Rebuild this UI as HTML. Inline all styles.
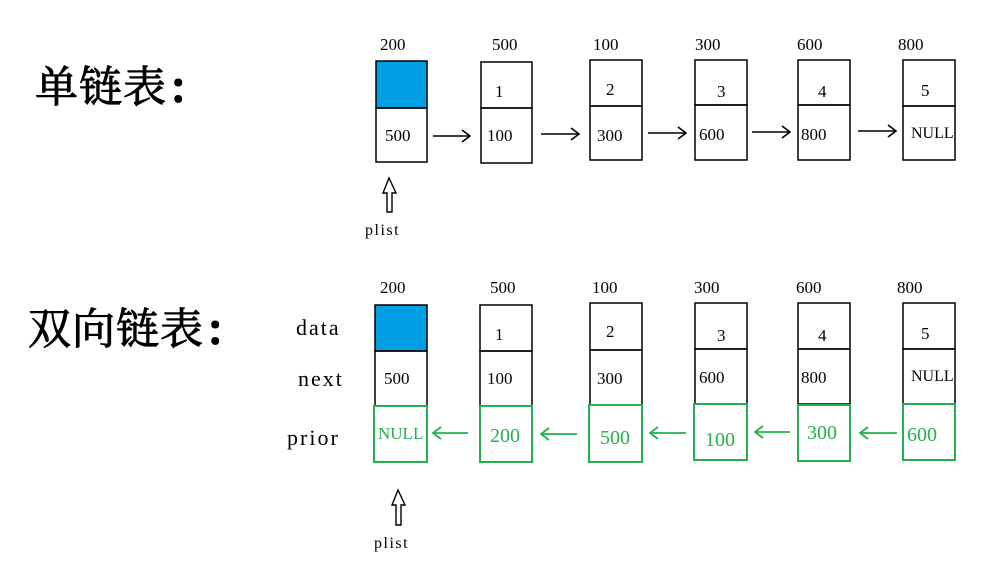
<!DOCTYPE html>
<html><head><meta charset="utf-8"><style>
html,body{margin:0;padding:0;background:#fff;width:996px;height:588px;overflow:hidden}
svg{display:block}
.t{font-family:"Noto Serif CJK SC","Liberation Serif",serif;font-size:43px;fill:#000;stroke:#000;stroke-width:0.9px;letter-spacing:1px}
.n{font-family:"Liberation Serif",serif;font-size:17px;fill:#000}
.g{font-family:"Liberation Serif",serif;font-size:20px;fill:#22b14c}
.m{font-family:"Liberation Serif",serif;font-size:22px;fill:#000;letter-spacing:2px}
.p{font-family:"Liberation Serif",serif;font-size:16px;fill:#000;letter-spacing:1.5px}
</style></head><body>
<svg width="996" height="588" viewBox="0 0 996 588" xmlns="http://www.w3.org/2000/svg">
<defs>
<marker id="ab" markerWidth="10" markerHeight="14" refX="9" refY="7" orient="auto" markerUnits="userSpaceOnUse"><path d="M1,1 L9,7 L1,13" fill="none" stroke="#000" stroke-width="1.6"/></marker>
<marker id="ag" markerWidth="10" markerHeight="14" refX="9" refY="7" orient="auto" markerUnits="userSpaceOnUse"><path d="M1,1 L9,7 L1,13" fill="none" stroke="#22b14c" stroke-width="1.8"/></marker>
</defs>
<text class="t" x="35" y="102">单链表<tspan dx="4" font-weight="bold">:</tspan></text>
<text class="t" x="28" y="344">双向链表<tspan dx="4" font-weight="bold">:</tspan></text>

<g class="n">
<text x="380" y="50">200</text><text x="492" y="50">500</text><text x="593" y="50">100</text>
<text x="695" y="50">300</text><text x="797" y="50">600</text><text x="898" y="50">800</text>
</g>
<g fill="none" stroke="#000" stroke-width="1.5">
<rect x="376" y="61" width="51" height="47" fill="#009fe3"/>
<rect x="376" y="108" width="51" height="54"/>
<rect x="481" y="62" width="51" height="46"/><rect x="481" y="108" width="51" height="55"/>
<rect x="590" y="60" width="52" height="46"/><rect x="590" y="106" width="52" height="54"/>
<rect x="695" y="60" width="52" height="45"/><rect x="695" y="105" width="52" height="55"/>
<rect x="798" y="60" width="52" height="45"/><rect x="798" y="105" width="52" height="55"/>
<rect x="903" y="60" width="52" height="46"/><rect x="903" y="106" width="52" height="54"/>
</g>
<g class="n">
<text x="495" y="97">1</text><text x="606" y="95">2</text><text x="717" y="97">3</text><text x="818" y="97">4</text><text x="921" y="96">5</text>
<text x="385" y="141">500</text><text x="487" y="141">100</text><text x="597" y="141">300</text>
<text x="699" y="140">600</text><text x="801" y="140">800</text><text x="911" y="138" style="font-size:16px">NULL</text>
</g>
<g stroke="#000" stroke-width="1.5" marker-end="url(#ab)">
<line x1="433" y1="136" x2="470" y2="136"/><line x1="541" y1="134" x2="579" y2="134"/>
<line x1="648" y1="133" x2="686" y2="133"/><line x1="752" y1="132" x2="790" y2="132"/>
<line x1="858" y1="131" x2="896" y2="131"/>
</g>
<path d="M389,178 L383,193 L387,193 L387,212 L392,212 L392,193 L396,193 Z" fill="#fff" stroke="#000" stroke-width="1.4"/>
<text class="p" x="365" y="235">plist</text>

<g class="n">
<text x="380" y="293">200</text><text x="490" y="293">500</text><text x="592" y="293">100</text>
<text x="694" y="293">300</text><text x="796" y="293">600</text><text x="897" y="293">800</text>
</g>
<text class="m" x="296" y="335">data</text>
<text class="m" x="298" y="386">next</text>
<text class="m" x="287" y="445">prior</text>
<g fill="none" stroke="#000" stroke-width="1.5">
<rect x="375" y="305" width="52" height="46" fill="#009fe3"/><rect x="375" y="351" width="52" height="55"/>
<rect x="480" y="305" width="52" height="46"/><rect x="480" y="351" width="52" height="55"/>
<rect x="590" y="303" width="52" height="47"/><rect x="590" y="350" width="52" height="55"/>
<rect x="695" y="303" width="52" height="46"/><rect x="695" y="349" width="52" height="55"/>
<rect x="798" y="303" width="52" height="46"/><rect x="798" y="349" width="52" height="55"/>
<rect x="903" y="303" width="52" height="46"/><rect x="903" y="349" width="52" height="55"/>
</g>
<g fill="none" stroke="#22b14c" stroke-width="2">
<rect x="374" y="406" width="53" height="56"/><rect x="480" y="406" width="52" height="56"/>
<rect x="589" y="405" width="53" height="57"/><rect x="694" y="404" width="53" height="56"/>
<rect x="798" y="405" width="52" height="56"/><rect x="903" y="404" width="52" height="56"/>
</g>
<g class="n">
<text x="495" y="340">1</text><text x="606" y="337">2</text><text x="717" y="341">3</text><text x="818" y="341">4</text><text x="921" y="339">5</text>
<text x="384" y="384">500</text><text x="487" y="384">100</text><text x="597" y="384">300</text>
<text x="699" y="383">600</text><text x="801" y="383">800</text><text x="911" y="381" style="font-size:16px">NULL</text>
</g>
<g class="g">
<text x="378" y="439" style="font-size:17px">NULL</text>
<text x="490" y="442">200</text><text x="600" y="444">500</text><text x="705" y="446">100</text>
<text x="807" y="439">300</text><text x="907" y="441">600</text>
</g>
<g stroke="#22b14c" stroke-width="1.8" marker-end="url(#ag)">
<line x1="468" y1="433" x2="433" y2="433"/><line x1="577" y1="434" x2="541" y2="434"/>
<line x1="686" y1="433" x2="650" y2="433"/><line x1="790" y1="432" x2="755" y2="432"/>
<line x1="897" y1="433" x2="860" y2="433"/>
</g>
<path d="M398,490 L392,505 L396,505 L396,525 L401,525 L401,505 L405,505 Z" fill="#fff" stroke="#000" stroke-width="1.4"/>
<text class="p" x="374" y="548">plist</text>
</svg>
</body></html>
